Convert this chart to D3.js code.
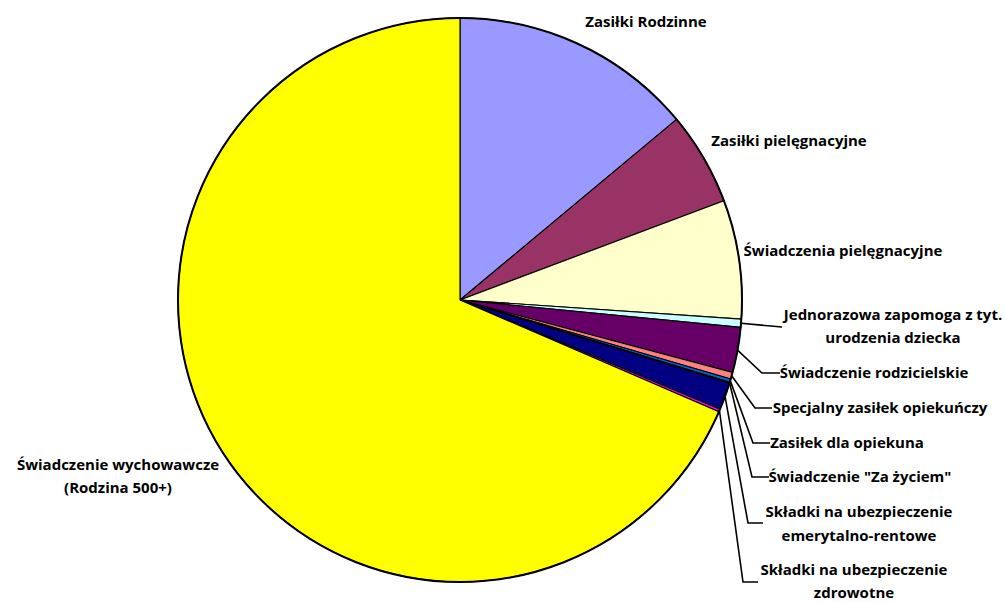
<!DOCTYPE html>
<html><head><meta charset="utf-8">
<script src="https://cdn.jsdelivr.net/npm/d3@7"></script>
<style>
body{margin:0;background:#fff}
text{font-family:"Open Sans",Lato,sans-serif;font-weight:700;font-size:15px;fill:#000}
</style>
</head><body>
<svg id="c" width="1005" height="602"></svg>
<script>
// ---- data ----
const categories = [
  ["Zasiłki Rodzinne"],
  ["Zasiłki pielęgnacyjne"],
  ["Świadczenia pielęgnacyjne"],
  ["Jednorazowa zapomoga z tyt.", "urodzenia dziecka"],
  ["Świadczenie rodzicielskie"],
  ["Specjalny zasiłek opiekuńczy"],
  ["Zasiłek dla opiekuna"],
  ["Świadczenie \"Za życiem\""],
  ["Składki na ubezpieczenie", "emerytalno-rentowe"],
  ["Składki na ubezpieczenie", "zdrowotne"],
  ["Świadczenie wychowawcze", "(Rodzina 500+)"]
];
const values = [13.94, 5.33, 6.81, 0.47, 2.58, 0.39, 0.19, 0.06, 1.56, 0.16, 68.51];
const colors = ["#9999FF","#993366","#FFFFCC","#CCFFFF","#660066","#FF8080","#0066CC","#CCCCFF","#000080","#FF00FF","#FFFF00"];

// ---- layout (label placement) ----
const cx = 460, cy = 300, R = 282;
const labelLayout = [
  {x:646, y:27,  leader:null},
  {x:789, y:146, leader:null},
  {x:843, y:256, leader:null},
  {x:893, y:320, dy:23, leader:{ex:782, ey:327, hx:782}},
  {x:874, y:378, leader:{ex:762, ey:373, hx:780}},
  {x:880, y:413, leader:{ex:755, ey:408, hx:772}},
  {x:847, y:448, leader:{ex:753, ey:443, hx:770}},
  {x:860, y:482, leader:{ex:752, ey:477, hx:769}},
  {x:859, y:517, dy:24, leader:{ex:748, ey:523, hx:763}},
  {x:854, y:575, dy:23, leader:{ex:743, ey:582, hx:758}},
  {x:118, y:470, dy:23, leader:null}
];

const svg = d3.select("#c");
const g = svg.append("g").attr("transform", `translate(${cx},${cy})`);
const pie = d3.pie().sort(null).value(d => d).startAngle(0).endAngle(2*Math.PI);
const arcs = pie(values);
const arc = d3.arc().innerRadius(0).outerRadius(R);

g.selectAll("path.slice").data(arcs).join("path")
  .attr("class","slice")
  .attr("d", arc)
  .attr("fill", (d,i) => colors[i])
  .attr("stroke", "#000")
  .attr("stroke-width", 1.1)
  .attr("stroke-linejoin","round");

// outer rim
g.append("circle").attr("r", R).attr("fill","none")
  .attr("stroke","#000").attr("stroke-width",2);

// leader lines
arcs.forEach((d,i) => {
  const L = labelLayout[i].leader;
  if (!L) return;
  const a = (d.startAngle + d.endAngle)/2;
  const sx = cx + Math.sin(a)*R, sy = cy - Math.cos(a)*R;
  const pts = [[sx,sy],[L.ex,L.ey],[L.hx,L.ey]];
  svg.append("path")
    .attr("d", d3.line()(pts))
    .attr("fill","none").attr("stroke","#000").attr("stroke-width",1.6);
});

// labels
categories.forEach((lines,i) => {
  const p = labelLayout[i];
  const t = svg.append("text").attr("text-anchor","middle");
  lines.forEach((s,k) => {
    t.append("tspan").attr("x", p.x).attr("y", p.y + k*(p.dy||23)).text(s);
  });
});
</script>
</body></html>
